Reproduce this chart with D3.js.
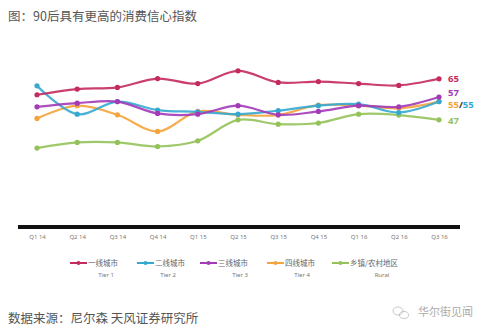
<!DOCTYPE html>
<html><head><meta charset="utf-8">
<script src="https://cdn.jsdelivr.net/npm/d3@7"></script>
<style>body{margin:0;background:#fff;}svg{display:block;font-family:"Noto Sans CJK SC","Noto Sans",sans-serif;}</style>
</head><body>
<script>
const quarters = ["Q1 14","Q2 14","Q3 14","Q4 14","Q1 15","Q2 15","Q3 15","Q4 15","Q1 16","Q2 16","Q3 16"];
const tier1 = [58, 60.5, 61.2, 65.1, 62.9, 68.5, 63.4, 63.8, 62.9, 62.1, 65];
const tier2 = [61.9, 49.5, 55, 51.3, 50.5, 49.5, 51, 53.2, 53.9, 50.2, 55];
const tier3 = [52.7, 54.3, 55, 49.8, 49.5, 53.2, 49.2, 50.7, 53.2, 52.7, 57];
const tier4 = [47.6, 53.2, 49.2, 41.9, 50.7, 49.2, 49.1, 53.5, 53.2, 52.1, 55];
const rural = [34.6, 37.1, 37.1, 35.3, 37.8, 47, 45.1, 45.6, 49.5, 49.1, 47];
const seriesNames = ["一线城市","二线城市","三线城市","四线城市","乡镇/农村地区"];
const seriesSub = ["Tier 1","Tier 2","Tier 3","Tier 4","Rural"];
const colors = ["#c42a5e","#35a8d0","#a33ab8","#f4a43c","#93c259"];

const W = 493, H = 333;
const svg = d3.select("body").append("svg").attr("width", W).attr("height", H);

svg.append("text").attr("x", 8).attr("y", 21).attr("font-size", 12.5).attr("fill", "#555")
  .text("图：90后具有更高的消费信心指数");

const x = d3.scalePoint().domain(quarters).range([37, 439]);
const y = d3.scaleLinear().domain([0, 80]).range([227, 44.6]);

const allSeries = [tier1, tier2, tier3, tier4, rural];
const line = d3.line().x((d, i) => x(quarters[i])).y(d => y(d)).curve(d3.curveCatmullRom.alpha(0.5));

// draw order: rural at back, tier1 on top
[4, 3, 1, 2, 0].forEach(k => {
  const g = svg.append("g");
  g.append("path").datum(allSeries[k]).attr("d", line).attr("fill", "none")
    .attr("stroke", colors[k]).attr("stroke-width", 2.2).attr("stroke-opacity", 0.9);
  g.selectAll("circle").data(allSeries[k]).join("circle")
    .attr("cx", (d, i) => x(quarters[i])).attr("cy", d => y(d)).attr("r", 2.6)
    .attr("fill", colors[k]);
});

// axis
const axis = d3.axisBottom(x).tickSize(0).tickPadding(8);
const ag = svg.append("g").attr("transform", `translate(0,${y(0)})`).call(axis);
ag.select(".domain").remove();
ag.append("line").attr("x1", 18).attr("x2", 460).attr("y1", 0).attr("y2", 0)
  .attr("stroke", "#111").attr("stroke-width", 4);
ag.selectAll(".tick text").attr("font-size", 6).attr("fill", "#777").attr("font-family", "Noto Sans, sans-serif");

// end labels
const lblFont = 9.5;
svg.append("text").attr("x", 448).attr("y", y(tier1[10])).attr("dy", "0.35em")
  .attr("font-size", lblFont).attr("font-weight", "bold").attr("fill", colors[0])
  .attr("font-family", "Noto Sans, sans-serif").text("65");
svg.append("text").attr("x", 448).attr("y", y(tier3[10]) - 4.5).attr("dy", "0.35em")
  .attr("font-size", lblFont).attr("font-weight", "bold").attr("fill", colors[2])
  .attr("font-family", "Noto Sans, sans-serif").text("57");
const lab55 = svg.append("text").attr("x", 448).attr("y", y(tier4[10]) + 3).attr("dy", "0.35em")
  .attr("font-size", lblFont).attr("font-weight", "bold").attr("font-family", "Noto Sans, sans-serif");
lab55.append("tspan").attr("fill", colors[3]).text("55");
lab55.append("tspan").attr("fill", "#333").text("/");
lab55.append("tspan").attr("fill", colors[1]).text("55");
svg.append("text").attr("x", 448).attr("y", y(rural[10]) + 1).attr("dy", "0.35em")
  .attr("font-size", lblFont).attr("font-weight", "bold").attr("fill", colors[4])
  .attr("font-family", "Noto Sans, sans-serif").text("47");

// legend
const legX = [70, 137, 200, 267, 332];
const legSubX = [106, 168, 240, 302, 382];
seriesNames.forEach((n, k) => {
  const g = svg.append("g");
  g.append("line").attr("x1", legX[k]).attr("x2", legX[k] + 17).attr("y1", 263).attr("y2", 263)
    .attr("stroke", colors[k]).attr("stroke-width", 2);
  g.append("circle").attr("cx", legX[k] + 8.5).attr("cy", 263).attr("r", 2).attr("fill", colors[k]);
  g.append("text").attr("x", legX[k] + 18).attr("y", 263).attr("dy", "0.35em")
    .attr("font-size", 7.5).attr("fill", "#666").text(n);
  g.append("text").attr("x", legSubX[k]).attr("y", 275).attr("dy", "0.35em").attr("text-anchor", "middle")
    .attr("font-size", 6).attr("fill", "#777").attr("font-family", "Noto Sans, sans-serif").text(seriesSub[k]);
});

// footer
svg.append("text").attr("x", 8).attr("y", 323).attr("font-size", 12.5).attr("fill", "#555")
  .text("数据来源：尼尔森 天风证券研究所");
// watermark
const wm = svg.append("g").attr("fill", "none").attr("stroke", "#bbb").attr("stroke-width", 0.8);
wm.append("ellipse").attr("cx", 398).attr("cy", 311).attr("rx", 5).attr("ry", 4);
wm.append("ellipse").attr("cx", 404).attr("cy", 315).attr("rx", 4.5).attr("ry", 3.5);
svg.append("text").attr("x", 418).attr("y", 316).attr("font-size", 11).attr("fill", "#aaa")
  .text("华尔街见闻");
</script>
</body></html>
